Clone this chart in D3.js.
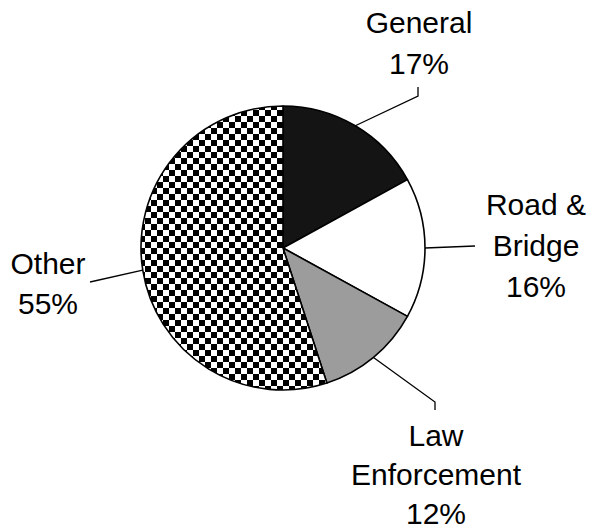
<!DOCTYPE html>
<html>
<head>
<meta charset="utf-8">
<script src="https://cdn.jsdelivr.net/npm/d3@7"></script>
<style>
  html, body { margin: 0; padding: 0; background: #ffffff; }
  svg { display: block; }
  text { font-family: "Liberation Sans", Arial, Helvetica, sans-serif; }
</style>
</head>
<body>
<div id="chart"></div>
<script>
// ---- data ----
const categories = ["General", "Road & Bridge", "Law Enforcement", "Other"];
const shares = [17, 16, 12, 55];
const labelLines = [["General", "17%"], ["Road &", "Bridge", "16%"], ["Law", "Enforcement", "12%"], ["Other", "55%"]];

// ---- layout ----
const W = 590, H = 531;
const cx = 283, cy = 248, R = 142;
const fills = ["#141414", "#ffffff", "#9c9c9c", "url(#checker)"];
// leader elbow points and label anchors (layout)
const leaders = [
  { pts: [[418, 96], [418, 87]], tx: 419, ty: 33, gap: 41 },
  { pts: [[475, 246]], tx: 536, ty: 215, gap: 41 },
  { pts: [[435, 402], [435, 410]], tx: 436, ty: 446, gap: 39 },
  { pts: [[90, 282]], tx: 48, ty: 274, gap: 40 }
];

const svg = d3.select("#chart").append("svg")
  .attr("width", W).attr("height", H);

svg.append("rect").attr("width", W).attr("height", H).attr("fill", "#ffffff");

const cell = 6;
const defs = svg.append("defs");
const pat = defs.append("pattern")
  .attr("id", "checker")
  .attr("patternUnits", "userSpaceOnUse")
  .attr("width", cell * 2).attr("height", cell * 2)
  .attr("x", 0).attr("y", 0);
pat.append("rect").attr("width", cell * 2).attr("height", cell * 2).attr("fill", "#ffffff");
pat.append("rect").attr("x", 0).attr("y", 0).attr("width", cell).attr("height", cell).attr("fill", "#000");
pat.append("rect").attr("x", cell).attr("y", cell).attr("width", cell).attr("height", cell).attr("fill", "#000");

const pie = d3.pie().sort(null).startAngle(0).endAngle(2 * Math.PI).value(d => d);
const arcs = pie(shares);
const arc = d3.arc().innerRadius(0).outerRadius(R);

const g = svg.append("g").attr("transform", `translate(${cx},${cy})`);
g.selectAll("path.slice")
  .data(arcs)
  .join("path")
  .attr("class", "slice")
  .attr("d", arc)
  .attr("fill", (d, i) => fills[i])
  .attr("stroke", "#000")
  .attr("stroke-width", 1.6)
  .attr("stroke-linejoin", "round");

// leader lines and labels
const line = d3.line();
arcs.forEach((a, i) => {
  const mid = (a.startAngle + a.endAngle) / 2;
  const start = [cx + R * Math.sin(mid), cy - R * Math.cos(mid)];
  svg.append("path")
    .attr("d", line([start, ...leaders[i].pts]))
    .attr("fill", "none")
    .attr("stroke", "#000")
    .attr("stroke-width", 1.3);
  const t = svg.append("text")
    .attr("x", leaders[i].tx)
    .attr("y", leaders[i].ty)
    .attr("text-anchor", "middle")
    .attr("font-size", 30)
    .attr("fill", "#000");
  labelLines[i].forEach((s, k) => {
    t.append("tspan")
      .attr("x", leaders[i].tx)
      .attr("y", leaders[i].ty + k * leaders[i].gap)
      .text(s);
  });
});
</script>
</body>
</html>
